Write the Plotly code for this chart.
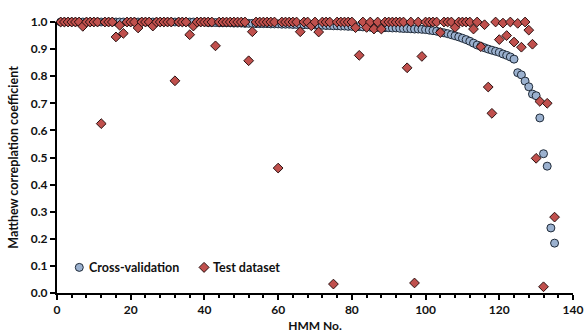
import plotly.graph_objects as go

hmm_no = list(range(1, 136))

cv_mcc = (
    [1.0] * 40
    + [0.998, 0.998, 0.998, 0.997, 0.997, 0.997, 0.997, 0.996, 0.996, 0.996]
    + [0.995, 0.995, 0.995, 0.994, 0.994, 0.994, 0.994, 0.993, 0.993, 0.993]
    + [0.992, 0.992, 0.992, 0.991, 0.991, 0.991, 0.990, 0.990, 0.990, 0.989]
    + [0.988, 0.988, 0.987, 0.987, 0.986, 0.986, 0.985, 0.985, 0.984, 0.984]
    + [0.983, 0.983, 0.982, 0.982, 0.981, 0.981, 0.980, 0.980, 0.979, 0.979]
    + [0.978, 0.978, 0.977, 0.976, 0.976, 0.975, 0.974, 0.974, 0.973, 0.972]
    + [0.970, 0.968, 0.966, 0.963, 0.960, 0.957, 0.953, 0.949, 0.945, 0.940]
    + [0.935, 0.929, 0.922, 0.915, 0.910, 0.905, 0.900, 0.896, 0.892, 0.888]
    + [0.882, 0.877, 0.871, 0.863, 0.813, 0.805, 0.782, 0.761, 0.734, 0.728]
    + [0.646, 0.514, 0.468, 0.240, 0.184]
)

test_overrides = {
    7: 0.984, 12: 0.625, 16: 0.945, 17: 0.988, 18: 0.958, 22: 0.978, 26: 0.985,
    32: 0.783, 36: 0.953, 37: 0.985, 43: 0.912, 52: 0.857, 53: 0.964, 60: 0.461,
    66: 0.964, 69: 0.986, 71: 0.963, 75: 0.033, 81: 0.979, 82: 0.877, 84: 0.980,
    86: 0.974, 88: 0.974, 95: 0.831, 97: 0.037, 99: 0.873, 104: 0.961, 108: 0.980,
    113: 0.974, 115: 0.909, 116: 0.990, 117: 0.760, 118: 0.663, 119: 1.0,
    120: 0.935, 121: 0.996, 122: 0.950, 123: 1.0, 124: 0.926, 125: 0.995,
    126: 0.907, 127: 1.0, 128: 0.970, 129: 0.918, 130: 0.497, 131: 0.707,
    132: 0.023, 133: 0.700, 134: None, 135: 0.280,
}
test_mcc = [test_overrides.get(n, 1.0) for n in hmm_no]

x_ticks = [0, 20, 40, 60, 80, 100, 120, 140]
y_ticks = [0.0, 0.1, 0.2, 0.3, 0.4, 0.5, 0.6, 0.7, 0.8, 0.9, 1.0]
series_names = ["Cross-validation", "Test dataset"]

FONT = "Lato"
TXT = "#111111"
CV_FILL, CV_LINE = "#9BB1CF", "#1F2A38"
TS_FILL, TS_LINE = "#C0504D", "#2A1010"

fig = go.Figure()
fig.add_trace(go.Scatter(
    x=hmm_no, y=cv_mcc, mode="markers", name=series_names[0],
    cliponaxis=False,
    marker=dict(symbol="circle", size=8, color=CV_FILL, line=dict(color=CV_LINE, width=1)),
))
fig.add_trace(go.Scatter(
    x=hmm_no, y=test_mcc, mode="markers", name=series_names[1],
    cliponaxis=False,
    marker=dict(symbol="diamond", size=7.5, color=TS_FILL, line=dict(color=TS_LINE, width=1)),
))

# custom legend (inside plot, bottom-left)
leg_y = 0.0945
fig.add_shape(type="circle", xref="paper", yref="paper", xsizemode="pixel", ysizemode="pixel",
              xanchor=0.0432, yanchor=leg_y, x0=-4, x1=4, y0=-4, y1=4,
              fillcolor=CV_FILL, line=dict(color=CV_LINE, width=1))
fig.add_shape(type="path", xref="paper", yref="paper", xsizemode="pixel", ysizemode="pixel",
              xanchor=0.285, yanchor=leg_y, path="M 0 5 L 5 0 L 0 -5 L -5 0 Z",
              fillcolor=TS_FILL, line=dict(color=TS_LINE, width=1))
fig.add_annotation(xref="paper", yref="paper", x=0.0585, y=leg_y, xanchor="left", yanchor="middle",
                   text="<b>" + series_names[0] + "</b>", showarrow=False,
                   font=dict(family=FONT, size=12.5, color=TXT))
fig.add_annotation(xref="paper", yref="paper", x=0.299, y=leg_y, xanchor="left", yanchor="middle",
                   text="<b>" + series_names[1] + "</b>", showarrow=False,
                   font=dict(family=FONT, size=12.5, color=TXT))

fig.update_layout(
    width=584, height=333,
    margin=dict(l=57, r=11, t=22, b=40),
    paper_bgcolor="white", plot_bgcolor="white",
    font=dict(family=FONT, size=12, color=TXT),
    showlegend=False,
)
fig.update_xaxes(
    range=[0, 140], tickvals=x_ticks, ticktext=["<b>%d</b>" % v for v in x_ticks],
    showgrid=False, zeroline=False,
    showline=True, linecolor="black", linewidth=2,
    ticks="outside", ticklen=5, tickwidth=2, tickcolor="black",
    minor=dict(dtick=4, ticks="outside", ticklen=3, tickwidth=1.5, tickcolor="black", showgrid=False),
    tickfont=dict(size=12, family=FONT, color=TXT),
    title=dict(text="<b>HMM No.</b>", font=dict(size=12, family=FONT, color=TXT), standoff=7),
    automargin=False,
)
fig.update_yaxes(
    range=[0, 1.0], tickvals=y_ticks, ticktext=["<b>%.1f</b>" % v for v in y_ticks],
    showgrid=False, zeroline=False,
    showline=True, linecolor="black", linewidth=2,
    ticks="outside", ticklen=5, tickwidth=2, tickcolor="black",
    tickfont=dict(size=12, family=FONT, color=TXT),
    title=dict(text="<b>Matthew correplation coefficient</b>", font=dict(size=12.5, family=FONT, color=TXT), standoff=9),
    automargin=False,
)

fig.write_html("out.html", config={"displayModeBar": False},
               post_script="document.body.style.margin='0';document.body.style.overflow='hidden';")
